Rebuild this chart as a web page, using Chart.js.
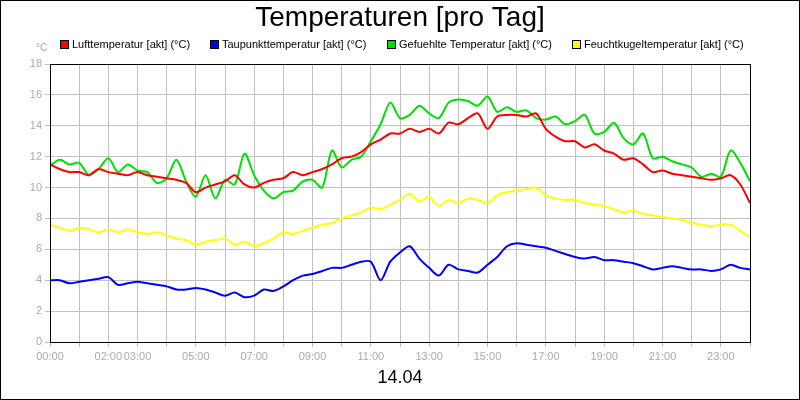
<!DOCTYPE html>
<html><head><meta charset="utf-8">
<script src="https://cdn.jsdelivr.net/npm/chart.js@4"></script>
<style>html,body{margin:0;padding:0;background:#fff}canvas{display:block}</style>
</head><body>
<canvas id="c" width="800" height="400"></canvas>
<script>
const hours = [];
for (let i = 0; i <= 72; i++) hours.push(i / 3);
const tickLabels = {0:'00:00',2:'02:00',3:'03:00',5:'05:00',7:'07:00',9:'09:00',11:'11:00',13:'13:00',15:'15:00',17:'17:00',19:'19:00',21:'21:00',23:'23:00'};
const luft = [11.5,11.2,11.0, 11.0,10.8,11.2, 11.0,10.9,10.8, 11.0,10.8,10.7, 10.6,10.5,10.3, 9.7,10.0,10.2, 10.4,10.8,10.2, 10.0,10.3,10.5, 10.6,11.0,10.8, 11.0,11.2,11.5, 11.9,12.0,12.3, 12.8,13.1,13.5, 13.5,13.8,13.6, 13.8,13.5,14.2, 14.1,14.5,14.8, 13.8,14.6,14.7, 14.7,14.6,14.8, 13.8,13.3,13.0, 13.0,12.6,12.8, 12.4,12.2,11.8, 11.9,11.5,11.0, 11.1,10.9,10.8, 10.7,10.6,10.5, 10.6,10.8,10.2, 9.0];
const taupunkt = [4.0,4.0,3.8, 3.9,4.0,4.1, 4.2,3.7,3.8, 3.9,3.8,3.7, 3.6,3.4,3.4, 3.5,3.4,3.2, 3.0,3.2,2.9, 3.0,3.4,3.3, 3.6,4.0,4.3, 4.4,4.6,4.8, 4.8,5.0,5.2, 5.2,4.0,5.2, 5.8,6.2,5.4, 4.8,4.3,5.0, 4.7,4.6,4.5, 5.0,5.5,6.2, 6.4,6.3,6.2, 6.1,5.9,5.7, 5.5,5.4,5.5, 5.3,5.3,5.2, 5.1,4.9,4.7, 4.8,4.9,4.8, 4.7,4.7,4.6, 4.7,5.0,4.8, 4.7];
const gefuehlt = [11.4,11.8,11.5, 11.6,10.8,11.2, 11.9,11.0,11.5, 11.1,11.0,10.3, 10.6,11.8,10.4, 9.4,10.8,9.3, 10.5,10.2,12.2, 10.8,9.8,9.3, 9.7,9.8,10.4, 10.5,10.0,12.4, 11.3,11.8,12.0, 13.0,14.1,15.5, 14.5,14.7,15.3, 14.8,14.5,15.5, 15.7,15.6,15.3, 15.9,14.9,15.2, 14.9,15.0,14.5, 14.4,14.6,14.1, 14.3,14.7,13.5, 13.6,14.2,13.2, 12.8,13.5,11.9, 12.0,11.7,11.5, 11.3,10.7,10.9, 10.7,12.4,11.6, 10.4];
const feucht = [7.6,7.4,7.2, 7.4,7.3,7.1, 7.3,7.1,7.3, 7.1,7.0,7.1, 6.9,6.7,6.6, 6.3,6.5,6.6, 6.7,6.3,6.5, 6.2,6.4,6.7, 7.1,7.0,7.2, 7.4,7.6,7.7, 8.0,8.2,8.4, 8.7,8.6,8.9, 9.2,9.6,9.1, 9.4,8.8,9.2, 9.0,9.3,9.2, 9.0,9.5,9.7, 9.8,9.9,10.0, 9.5,9.3,9.2, 9.2,9.0,8.9, 8.8,8.6,8.4, 8.5,8.3,8.2, 8.1,8.0,7.9, 7.7,7.6,7.5, 7.6,7.6,7.2, 6.8];

const series = [
  {label:'Lufttemperatur [akt] (°C)', data:luft, color:'#ff0000'},
  {label:'Taupunkttemperatur [akt] (°C)', data:taupunkt, color:'#0000ff'},
  {label:'Gefuehlte Temperatur [akt] (°C)', data:gefuehlt, color:'#00e000'},
  {label:'Feuchtkugeltemperatur [akt] (°C)', data:feucht, color:'#ffff00'}
];
const legendX = [60, 210, 387, 572];
const FONT = '"Liberation Sans", Arial, sans-serif';

const deco = {
  id:'deco',
  beforeDraw(c){ const x=c.ctx; x.save(); x.fillStyle='#fff'; x.fillRect(0,0,800,400); x.restore(); },
  afterDraw(c){
    const x=c.ctx; x.save();
    x.fillStyle='#000'; x.textAlign='center'; x.textBaseline='middle';
    x.font='28px '+FONT; x.fillText('Temperaturen [pro Tag]',400,18);
    x.font='18px '+FONT; x.fillText('14.04',400,378);
    x.font='11px '+FONT; x.textAlign='left';
    series.forEach((s,i)=>{
      x.fillStyle=s.color; x.fillRect(legendX[i],40,8,8);
      x.strokeStyle='#000'; x.lineWidth=1; x.strokeRect(legendX[i]+0.5,40.5,8,8);
      x.fillStyle='#000'; x.fillText(s.label,legendX[i]+12,45);
    });
    x.fillStyle='#aaa'; x.font='10px '+FONT; x.fillText('°C',36,48);
    const a=c.chartArea; x.strokeStyle='#000'; x.lineWidth=1;
    x.strokeRect(a.left+0.5,a.top+0.5,a.right-a.left,a.bottom-a.top);
    x.strokeRect(0.5,0.5,799,399);
    x.restore();
  }
};

new Chart(document.getElementById('c'), {
  type:'line',
  data:{ datasets: series.map(s=>({label:s.label, data:hours.map((h,i)=>({x:h,y:s.data[i]})), borderColor:s.color, backgroundColor:s.color, borderWidth:2, pointRadius:0, tension:0.3})) },
  options:{
    responsive:false, animation:false, devicePixelRatio:1,
    layout:{padding:{left:0,top:64,right:50,bottom:0}},
    plugins:{legend:{display:false}, title:{display:false}, tooltip:{enabled:false}},
    scales:{
      x:{type:'linear', min:0, max:24,
        afterFit(s){s.height=58;},
        ticks:{stepSize:1, autoSkip:false, maxRotation:0, color:'#aaa', font:{family:FONT,size:11},
          callback:v=>tickLabels[v]||''},
        grid:{color:'#c0c0c0', tickLength:5, drawTicks:true}, border:{color:'#000'}},
      y:{min:0, max:18,
        afterFit(s){s.width=50;},
        ticks:{stepSize:2, color:'#aaa', font:{family:FONT,size:11}},
        grid:{color:'#c0c0c0', tickLength:5}, border:{color:'#000'}}
    }
  },
  plugins:[deco]
});
</script>
</body></html>
